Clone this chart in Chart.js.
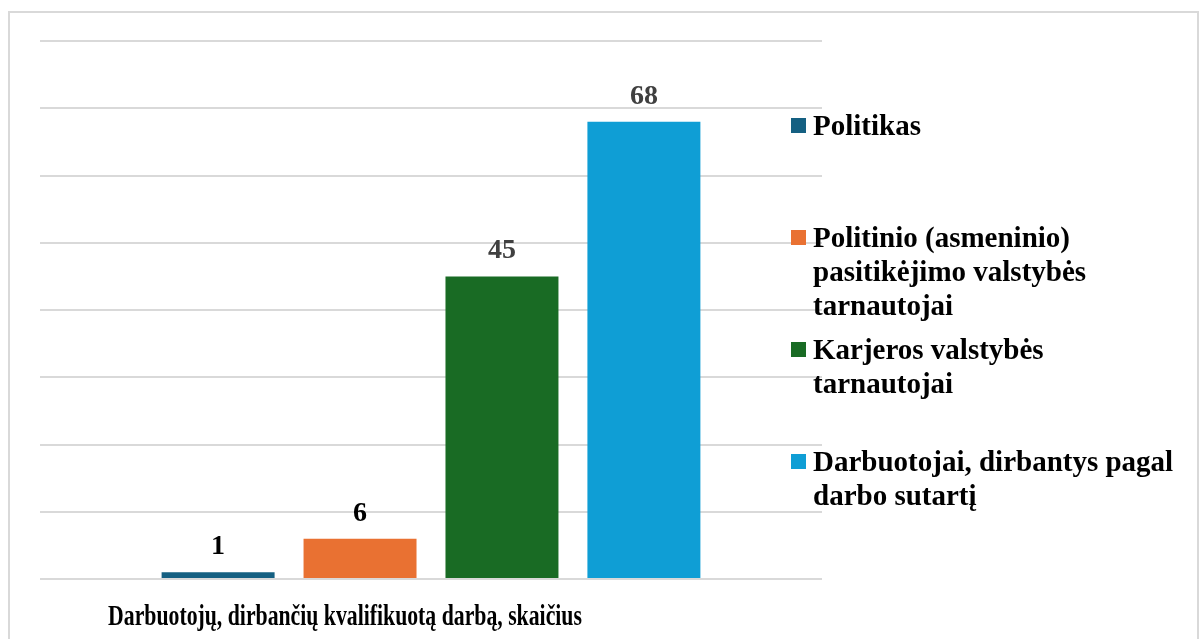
<!DOCTYPE html>
<html>
<head>
<meta charset="utf-8">
<script src="https://cdn.jsdelivr.net/npm/chart.js@4.4.1/dist/chart.umd.min.js"></script>
<style>
  html, body { margin: 0; padding: 0; background: #fff; }
  #wrap { position: relative; width: 1202px; height: 639px; overflow: hidden; }
  #frame { position: absolute; left: 8px; top: 11px; width: 1191px; height: 700px; border: 2px solid #d9d9d9; box-sizing: border-box; }
  #chart { position: absolute; left: 0; top: 0; }
  #legend { position: absolute; left: 791px; top: 0; font-family: "Liberation Serif", "Times New Roman", serif; font-weight: bold; font-size: 29px; line-height: 34px; color: #000; }
  .item { position: absolute; left: 0; white-space: nowrap; }
  .box { position: absolute; left: 0; width: 15px; height: 15px; }
  .txt { position: absolute; left: 22px; top: 0; }
</style>
</head>
<body>
<div id="wrap">
  <div id="frame"></div>
  <canvas id="chart" width="1202" height="639"></canvas>
  <div id="legend"></div>
</div>
<script>
// chart data
const categories = ['Darbuotojų, dirbančių kvalifikuotą darbą, skaičius'];
const seriesNames = [
    ['Politikas'],
    ['Politinio (asmeninio)', 'pasitikėjimo valstybės', 'tarnautojai'],
    ['Karjeros valstybės', 'tarnautojai'],
    ['Darbuotojai, dirbantys pagal', 'darbo sutartį']
];
const seriesValues = [1, 6, 45, 68];
const yTicks = [0, 10, 20, 30, 40, 50, 60, 70, 80];

const colors = ['#156082', '#E97132', '#196B24', '#0F9ED5'];
const labelColors = ['#000000', '#000000', '#404040', '#404040'];

// value labels above each bar
const barLabels = {
    id: 'barLabels',
    afterDatasetsDraw(chart) {
        const ctx = chart.ctx;
        ctx.save();
        ctx.font = 'bold 28px "Liberation Serif", "Times New Roman", serif';
        ctx.textAlign = 'center';
        ctx.textBaseline = 'alphabetic';
        chart.data.datasets.forEach((ds, i) => {
            const bar = chart.getDatasetMeta(i).data[0];
            ctx.fillStyle = labelColors[i];
            ctx.fillText(String(ds.data[0]), bar.x, bar.y - 18);
        });
        ctx.restore();
    }
};

// category label, drawn narrow like the original
const categoryLabel = {
    id: 'categoryLabel',
    afterDraw(chart) {
        const ctx = chart.ctx;
        const x = chart.scales.x.getPixelForValue(0) - 86;
        const y = chart.chartArea.bottom + 46;
        ctx.save();
        ctx.font = 'bold 29px "Liberation Serif", "Times New Roman", serif';
        ctx.fillStyle = '#000';
        ctx.textAlign = 'center';
        ctx.translate(x, y);
        ctx.scale(0.75, 1);
        ctx.fillText(categories[0], 0, 0);
        ctx.restore();
    }
};

const ctx = document.getElementById('chart').getContext('2d');
new Chart(ctx, {
    type: 'bar',
    data: {
        labels: categories,
        datasets: seriesValues.map((v, i) => ({
            label: seriesNames[i].join(' '),
            data: [v],
            backgroundColor: colors[i],
            categoryPercentage: 0.726,
            barPercentage: 0.796
        }))
    },
    options: {
        responsive: false,
        animation: false,
        layout: { padding: { left: 40, right: 380, top: 41, bottom: 60 } },
        plugins: {
            legend: { display: false },
            tooltip: { enabled: false }
        },
        scales: {
            x: {
                ticks: { display: false },
                grid: { display: false, drawTicks: false },
                border: { display: false }
            },
            y: {
                min: yTicks[0],
                max: yTicks[yTicks.length - 1],
                afterBuildTicks: axis => { axis.ticks = yTicks.map(v => ({ value: v })); },
                ticks: { display: false },
                grid: { color: '#d9d9d9', lineWidth: 2, drawTicks: false },
                border: { display: false }
            }
        }
    },
    plugins: [barLabels, categoryLabel]
});

// legend on the right, one slot per series
const legend = document.getElementById('legend');
seriesNames.forEach((lines, i) => {
    const item = document.createElement('div');
    item.className = 'item';
    item.style.top = (108 + i * 112) + 'px';
    const box = document.createElement('div');
    box.className = 'box';
    box.style.background = colors[i];
    box.style.top = '10px';
    const txt = document.createElement('div');
    txt.className = 'txt';
    txt.innerHTML = lines.join('<br>');
    item.appendChild(box);
    item.appendChild(txt);
    legend.appendChild(item);
});
</script>
</body>
</html>
